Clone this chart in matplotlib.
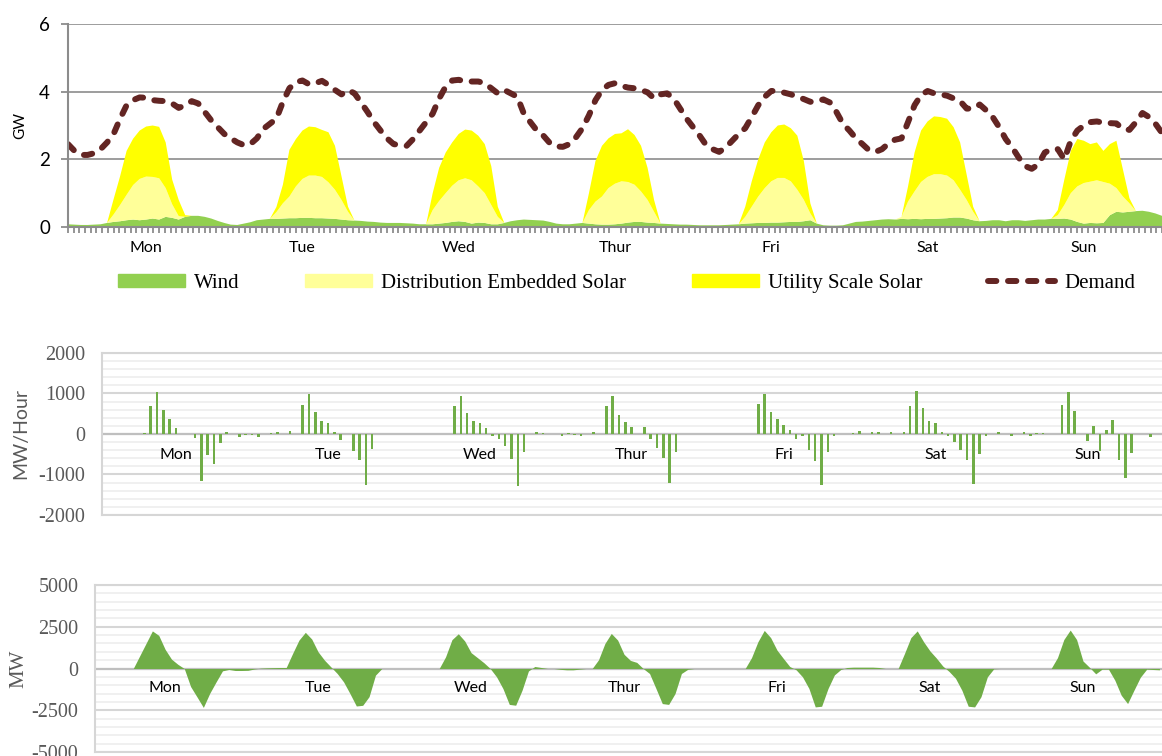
import numpy as np
import matplotlib
matplotlib.use('Agg')
import matplotlib.pyplot as plt
from matplotlib.patches import Patch
from matplotlib.lines import Line2D

plt.rcParams['axes.unicode_minus'] = False

# ---------------- data (hourly, Mon 00:00 = hour 0) ----------------
days = ['Mon', 'Tue', 'Wed', 'Thur', 'Fri', 'Sat', 'Sun']

# top chart, GW, hours 0..168
demand = [2.45, 2.25, 2.13, 2.13, 2.18, 2.30, 2.50, 2.75, 3.20, 3.60, 3.75, 3.83, 3.82, 3.75, 3.73, 3.72, 3.65, 3.52, 3.60, 3.72, 3.65, 3.40, 3.15, 2.95,
          2.75, 2.62, 2.50, 2.42, 2.45, 2.62, 2.90, 3.05, 3.20, 3.70, 4.10, 4.28, 4.33, 4.22, 4.25, 4.32, 4.20, 4.05, 3.92, 4.05, 3.95, 3.68, 3.40, 3.10,
          2.85, 2.62, 2.45, 2.42, 2.40, 2.60, 2.85, 3.10, 3.35, 3.80, 4.15, 4.33, 4.35, 4.30, 4.30, 4.30, 4.25, 4.10, 3.95, 4.05, 3.95, 3.85, 3.35, 3.10,
          2.85, 2.70, 2.48, 2.38, 2.37, 2.45, 2.65, 2.92, 3.30, 3.75, 4.05, 4.20, 4.25, 4.17, 4.12, 4.10, 4.05, 3.98, 3.80, 3.92, 3.95, 3.80, 3.50, 3.20,
          2.95, 2.70, 2.42, 2.30, 2.22, 2.35, 2.55, 2.75, 2.92, 3.25, 3.60, 3.85, 4.02, 4.02, 3.97, 3.92, 3.85, 3.78, 3.70, 3.72, 3.77, 3.68, 3.40, 3.05,
          2.85, 2.62, 2.45, 2.27, 2.22, 2.30, 2.47, 2.58, 2.62, 3.10, 3.60, 3.90, 4.02, 3.95, 3.92, 3.88, 3.80, 3.72, 3.50, 3.50, 3.62, 3.45, 3.25, 2.95,
          2.60, 2.35, 2.05, 1.80, 1.72, 1.85, 2.20, 2.30, 2.30, 2.00, 2.55, 2.85, 3.00, 3.10, 3.12, 3.08, 3.07, 3.06, 2.90, 2.87, 3.10, 3.37, 3.25, 3.05, 2.78]

wind = [0.08, 0.07, 0.06, 0.06, 0.07, 0.08, 0.12, 0.15, 0.17, 0.20, 0.22, 0.20, 0.22, 0.25, 0.22, 0.30, 0.27, 0.22, 0.30, 0.33, 0.33, 0.30, 0.25, 0.18,
        0.12, 0.07, 0.06, 0.10, 0.14, 0.20, 0.22, 0.24, 0.24, 0.25, 0.26, 0.26, 0.27, 0.27, 0.26, 0.26, 0.25, 0.24, 0.22, 0.20, 0.19, 0.18, 0.16, 0.15,
        0.13, 0.12, 0.12, 0.12, 0.11, 0.10, 0.08, 0.08, 0.08, 0.10, 0.12, 0.15, 0.17, 0.15, 0.10, 0.13, 0.12, 0.08, 0.08, 0.12, 0.17, 0.20, 0.22, 0.21,
        0.20, 0.19, 0.15, 0.10, 0.08, 0.08, 0.10, 0.12, 0.10, 0.08, 0.07, 0.07, 0.08, 0.10, 0.13, 0.15, 0.15, 0.13, 0.12, 0.10, 0.09, 0.08, 0.07, 0.07,
        0.06, 0.05, 0.05, 0.05, 0.05, 0.06, 0.07, 0.08, 0.10, 0.11, 0.12, 0.12, 0.13, 0.13, 0.14, 0.15, 0.15, 0.17, 0.20, 0.10, 0.05, 0.04, 0.04, 0.05,
        0.10, 0.15, 0.16, 0.18, 0.20, 0.22, 0.23, 0.22, 0.24, 0.23, 0.24, 0.23, 0.24, 0.24, 0.25, 0.26, 0.28, 0.28, 0.25, 0.20, 0.17, 0.18, 0.20, 0.20,
        0.17, 0.20, 0.20, 0.18, 0.20, 0.22, 0.22, 0.24, 0.24, 0.25, 0.22, 0.15, 0.10, 0.12, 0.11, 0.12, 0.35, 0.45, 0.43, 0.45, 0.47, 0.48, 0.45, 0.40, 0.33]

dist_solar = ([0] * 7 + [0.22, 0.48, 0.75, 1.02, 1.22, 1.27, 1.23, 1.22, 0.85, 0.40, 0.10] + [0] * 6
              + [0] * 8 + [0.20, 0.45, 0.64, 0.94, 1.15, 1.25, 1.26, 1.22, 1.07, 0.86, 0.58, 0.25] + [0] * 4
              + [0] * 8 + [0.42, 0.67, 0.88, 1.07, 1.21, 1.29, 1.28, 1.07, 0.88, 0.57, 0.22] + [0] * 5
              + [0] * 8 + [0.40, 0.67, 0.83, 1.08, 1.20, 1.25, 1.20, 1.10, 0.90, 0.67, 0.33] + [0] * 5
              + [0] * 8 + [0.20, 0.49, 0.78, 1.03, 1.22, 1.32, 1.31, 1.20, 0.95, 0.63, 0.20] + [0] * 5
              + [0] * 8 + [0.06, 0.52, 0.81, 1.10, 1.24, 1.32, 1.31, 1.26, 1.10, 0.82, 0.55, 0.25] + [0] * 4
              + [0] * 8 + [0.11, 0.40, 0.78, 1.05, 1.20, 1.22, 1.27, 1.21, 0.93, 0.70, 0.47, 0.25] + [0] * 5)

util_solar = ([0] * 7 + [0.45, 0.85, 1.30, 1.37, 1.43, 1.48, 1.52, 1.52, 1.35, 0.73, 0.48, 0.05] + [0] * 5
              + [0] * 8 + [0.15, 0.55, 1.38, 1.40, 1.43, 1.45, 1.43, 1.39, 1.48, 1.30, 0.70, 0.15] + [0] * 4
              + [0] * 8 + [0.50, 0.98, 1.20, 1.28, 1.37, 1.44, 1.47, 1.50, 1.45, 1.15, 0.30] + [0] * 5
              + [0] * 8 + [0.50, 1.20, 1.50, 1.47, 1.47, 1.42, 1.56, 1.47, 1.35, 0.95, 0.35] + [0] * 5
              + [0] * 8 + [0.30, 0.75, 1.10, 1.35, 1.45, 1.55, 1.58, 1.57, 1.60, 1.15, 0.30] + [0] * 5
              + [0] * 9 + [0.45, 1.15, 1.52, 1.64, 1.71, 1.69, 1.68, 1.57, 1.40, 0.75, 0.15] + [0] * 4
              + [0] * 8 + [0.15, 0.75, 1.25, 1.40, 1.25, 1.11, 1.12, 0.92, 1.17, 1.40, 0.80, 0.15] + [0] * 5)

# middle chart, MW/Hour, hours 0..167
ramp = [0, 0, 0, 0, 0, 0, 10, 15, 700, 1040, 600, 375, 150, 10, 10, -110, -1160, -530, -750, -210, 55, 0, -75, -30,
        -30, -75, 0, 20, 50, 0, 75, 0, 710, 980, 540, 310, 270, 55, -140, 10, -410, -640, -1270, -360, -10, 0, 0, -10,
        0, 0, 0, 0, 0, 0, -10, 0, 690, 940, 525, 310, 260, 140, -60, -125, -290, -625, -1275, -450, 0, 60, 30, 0,
        0, -40, 20, -30, -60, 0, 55, 0, 700, 945, 475, 300, 170, 10, 165, -120, -350, -590, -1200, -440, 0, 0, 0, 0,
        0, 0, 0, 0, 0, 0, 5, 5, 745, 990, 555, 370, 215, 105, -120, -40, -400, -655, -1270, -440, -40, 0, 0, 20,
        65, 0, 40, 50, 0, 55, 0, 50, 690, 1065, 650, 330, 270, 40, -60, -205, -385, -650, -1245, -485, -60, 0, 40, 0,
        -55, 0, 50, -40, 25, 25, 0, 0, 725, 1040, 580, 10, -180, 205, -425, 105, 350, -630, -1095, -465, 0, 0, -75, 0]

# bottom chart, MW, hours 0..168
change = [0, 0, 0, 0, 0, 0, 0, 0, 750, 1500, 2250, 1985, 1150, 560, 250, 0, -1080, -1700, -2330, -1485, -800, -140, -60, -120,
          -120, -110, -30, 20, 40, 50, 60, 60, 900, 1700, 2165, 1765, 1000, 500, 100, -300, -800, -1500, -2245, -2205, -1685, -400, 0, 0,
          0, 0, 0, 0, 0, 0, 0, 0, 700, 1725, 2080, 1650, 950, 650, 350, 0, -500, -1200, -2150, -2200, -1300, -150, 120, 60,
          0, 0, -50, -80, -80, -40, 0, 0, 525, 1500, 2100, 1700, 850, 485, 365, 0, -300, -1190, -2100, -2150, -1500, -300, -50, 0,
          0, 0, 0, 0, 0, 0, 0, 0, 650, 1600, 2280, 1850, 1100, 600, 120, -80, -500, -1190, -2300, -2260, -1200, -385, -60, 60,
          80, 80, 80, 80, 60, 0, 0, 0, 900, 1850, 2250, 1600, 1050, 625, 150, -180, -585, -1300, -2260, -2300, -1690, -500, -20, 0,
          0, 0, 0, 0, 0, 0, 0, 0, 650, 1735, 2300, 1735, 450, 80, -320, -40, -40, -700, -1600, -2100, -1300, -525, -40, -60, -80]

hours = np.arange(len(demand))
day_mid = np.arange(7) * 24 + 12

c_wind = '#92d050'
c_dist = '#ffff99'
c_util = '#ffff00'
c_dem = '#632523'
c_green = '#70ad47'
sans = 'Lato'
serif = 'Liberation Serif'

fig = plt.figure(figsize=(11.62, 7.56), dpi=100)
W, H = 1162.0, 756.0

# ---------------- top: generation vs demand ----------------
ax1 = fig.add_axes([68 / W, 1 - 227 / H, (1162 - 68) / W, (227 - 24) / H])
ax1.stackplot(hours, wind, dist_solar, util_solar, colors=[c_wind, c_dist, c_util], linewidth=0)
ax1.plot(hours, demand, color=c_dem, lw=4.3, dashes=(1.4, 1.95), dash_capstyle='round')
ax1.set_xlim(0, 168)
ax1.set_ylim(0, 6)
ax1.set_yticks([0, 2, 4, 6])
ax1.grid(axis='y', color='#8c8c8c', lw=1.2)
ax1.set_axisbelow(True)
for s in ['top', 'right']:
    ax1.spines[s].set_visible(False)
for s in ['left', 'bottom']:
    ax1.spines[s].set_color('#8c8c8c')
    ax1.spines[s].set_linewidth(1.5)
ax1.spines['bottom'].set_zorder(5)
ax1.set_xticks(day_mid, days)
ax1.set_xticks(np.linspace(0, 168, 193), minor=True)
ax1.tick_params(axis='x', which='major', length=0, pad=10, labelsize=11.5)
ax1.tick_params(axis='x', which='minor', length=4, width=1.3, color='#8c8c8c')
ax1.tick_params(axis='y', length=5, width=1.3, color='#8c8c8c', pad=8, labelsize=13.5)
for lab in ax1.get_xticklabels() + ax1.get_yticklabels():
    lab.set_family(sans)
ax1.set_ylabel('GW', family=sans, fontsize=11)
ax1.yaxis.set_label_coords(-0.0375, 0.5)

handles = [Patch(color=c_wind), Patch(color=c_dist), Patch(color=c_util),
           Line2D([], [], color=c_dem, lw=4.3, dashes=(1.4, 1.95), dash_capstyle='round')]
labels = ['Wind', 'Distribution Embedded Solar', 'Utility Scale Solar', 'Demand']
fig.legend(handles, labels, loc='center left', bbox_to_anchor=(118 / W, 1 - 283 / H), ncol=4,
           frameon=False, borderpad=0, borderaxespad=0, handlelength=3.2, handleheight=0.6,
           handletextpad=0.45, columnspacing=3.15, prop={'family': serif, 'size': 15})

# ---------------- middle: hourly ramp ----------------
ax2 = fig.add_axes([102 / W, 1 - 515 / H, (1162 - 102) / W, (515 - 353) / H])
ax2.bar(np.arange(len(ramp)), ramp, width=0.4, color=c_green, zorder=3)
ax2.set_xlim(0.3, 167.8)
ax2.set_ylim(-2000, 2000)
ax2.set_yticks(np.arange(-2000, 2001, 1000))
ax2.set_yticks(np.arange(-2000, 2001, 200), minor=True)

# ---------------- bottom: net change ----------------
ax3 = fig.add_axes([95 / W, 1 - 752 / H, (1162 - 95) / W, (752 - 585) / H])
ax3.fill_between(hours, change, 0, color=c_green, lw=0, zorder=3)
ax3.set_xlim(1.0, 168.4)
ax3.set_ylim(-5000, 5000)
ax3.set_yticks(np.arange(-5000, 5001, 2500))
ax3.set_yticks(np.arange(-5000, 5001, 500), minor=True)

for ax, lab_y in [(ax2, -520), (ax3, -1190)]:
    ax.grid(axis='y', which='minor', color='#eeeeee', lw=1.2)
    ax.grid(axis='y', which='major', color='#d6d6d6', lw=1.5)
    ax.axhline(0, color='#bfbfbf', lw=1.6, zorder=2)
    ax.set_axisbelow(True)
    ax.set_xticks([])
    for s in ['top', 'bottom', 'left']:
        ax.spines[s].set_color('#d6d6d6')
        ax.spines[s].set_linewidth(1.5)
    ax.spines['right'].set_visible(False)
    ax.tick_params(axis='y', which='both', length=0, pad=12, labelsize=14.5, labelcolor='#595959')
    for lab in ax.get_yticklabels():
        lab.set_family(serif)
    for x, d in zip(day_mid, days):
        ax.text(x, lab_y, d, ha='center', va='center', family=sans, fontsize=11.5, zorder=4)

ax2.set_ylabel('MW/Hour', family=sans, fontsize=14, color='#595959')
ax2.yaxis.set_label_coords(-0.069, 0.5)
ax3.set_ylabel('MW', family=serif, fontsize=15, color='#595959')
ax3.yaxis.set_label_coords(-0.062, 0.5)

fig.savefig('out.png', dpi=100)
